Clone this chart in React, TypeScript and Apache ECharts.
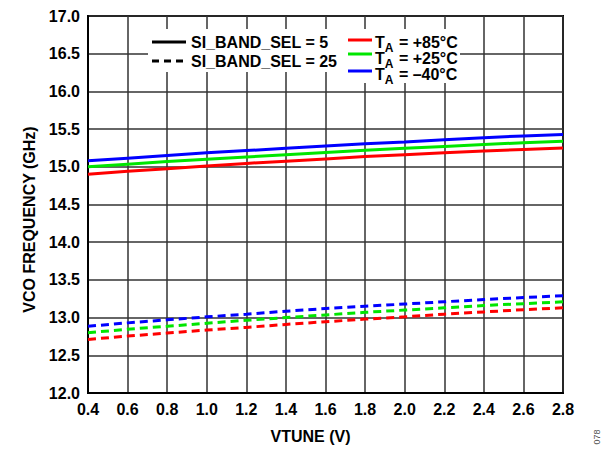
import React, { useEffect, useRef } from "react";
import * as echarts from "echarts";

const vtune = [0.4, 0.6, 0.8, 1.0, 1.2, 1.4, 1.6, 1.8, 2.0, 2.2, 2.4, 2.6, 2.8];
const band5_85 = [14.9, 14.94, 14.975, 15.01, 15.045, 15.075, 15.105, 15.135, 15.16, 15.185, 15.21, 15.23, 15.25];
const band5_25 = [15.0, 15.035, 15.07, 15.1, 15.13, 15.16, 15.19, 15.22, 15.245, 15.27, 15.295, 15.32, 15.34];
const band5_m40 = [15.08, 15.115, 15.15, 15.185, 15.215, 15.245, 15.275, 15.305, 15.33, 15.36, 15.385, 15.41, 15.43];
const band25_85 = [12.71, 12.755, 12.795, 12.835, 12.87, 12.91, 12.945, 12.98, 13.01, 13.045, 13.075, 13.105, 13.13];
const band25_25 = [12.8, 12.845, 12.885, 12.925, 12.965, 13.0, 13.035, 13.07, 13.1, 13.13, 13.16, 13.185, 13.21];
const band25_m40 = [12.885, 12.93, 12.97, 13.01, 13.045, 13.085, 13.12, 13.15, 13.18, 13.21, 13.24, 13.265, 13.29];

const RED = "#ff0000";
const GREEN = "#00e600";
const BLUE = "#0000ff";
const FONT = "Liberation Sans, Arial, sans-serif";
const FS = 16;

function mk(name: string, data: number[], color: string, dashed: boolean) {
  return {
    name,
    type: "line",
    data: vtune.map((x, i) => [x, data[i]]),
    showSymbol: false,
    lineStyle: { color, width: 3, type: dashed ? [8, 5] : "solid" },
    z: 3,
  };
}

export default function App() {
  const ref = useRef<HTMLDivElement>(null);
  useEffect(() => {
    const chart = echarts.init(ref.current!, null, { renderer: "svg" });
    const txt = { fontFamily: FONT, fontWeight: "bold", fontSize: FS, fill: "#000" };
    const rich = {
      t: { fontFamily: FONT, fontWeight: "bold", fontSize: FS, color: "#000", lineHeight: 18 },
      s: { fontFamily: FONT, fontWeight: "bold", fontSize: 12, color: "#000", lineHeight: 24, verticalAlign: "bottom", padding: [0, 1, 0, 0] },
    };
    chart.setOption({
      animation: false,
      backgroundColor: "#fff",
      grid: { left: 88, right: 42, top: 16, bottom: 54, show: true, borderColor: "#000", borderWidth: 2 },
      xAxis: {
        type: "value",
        min: 0.4,
        max: 2.8,
        interval: 0.2,
        name: "VTUNE (V)",
        nameLocation: "middle",
        nameGap: 35,
        nameTextStyle: { fontFamily: FONT, fontWeight: "bold", fontSize: FS, color: "#000", padding: [0, 30, 0, 0] },
        axisLine: { show: true, lineStyle: { color: "#000", width: 2 } },
        axisTick: { show: false },
        axisLabel: { margin: 8, fontFamily: FONT, fontWeight: "bold", fontSize: FS, color: "#000", formatter: (v: number) => v.toFixed(1) },
        splitLine: { show: true, lineStyle: { color: "#333", width: 1.5 } },
      },
      yAxis: {
        type: "value",
        min: 12,
        max: 17,
        interval: 0.5,
        name: "VCO FREQUENCY (GHz)",
        nameLocation: "middle",
        nameGap: 50,
        nameRotate: 90,
        nameTextStyle: { fontFamily: FONT, fontWeight: "bold", fontSize: FS, color: "#000", padding: [0, 30, 0, 0] },
        axisLine: { show: true, lineStyle: { color: "#000", width: 2 } },
        axisTick: { show: false },
        axisLabel: { margin: 8, fontFamily: FONT, fontWeight: "bold", fontSize: FS, color: "#000", formatter: (v: number) => v.toFixed(1) },
        splitLine: { show: true, lineStyle: { color: "#333", width: 1.5 } },
      },
      graphic: [
        { type: "rect", shape: { x: 148, y: 29, width: 312, height: 43 }, style: { fill: "#fff" }, z: 50 },
        { type: "rect", shape: { x: 340, y: 29, width: 120, height: 54 }, style: { fill: "#fff" }, z: 50 },
        { type: "line", shape: { x1: 152, y1: 42, x2: 186, y2: 42 }, style: { stroke: "#000", lineWidth: 3 }, z: 51 },
        { type: "line", shape: { x1: 152, y1: 61, x2: 186, y2: 61 }, style: { stroke: "#000", lineWidth: 3, lineDash: [7, 5] }, z: 51 },
        { type: "text", x: 191, y: 42, style: { ...txt, text: "SI_BAND_SEL = 5", verticalAlign: "middle" }, z: 51 },
        { type: "text", x: 191, y: 61, style: { ...txt, text: "SI_BAND_SEL = 25", verticalAlign: "middle" }, z: 51 },
        { type: "line", shape: { x1: 348, y1: 40, x2: 372, y2: 40 }, style: { stroke: RED, lineWidth: 3 }, z: 51 },
        { type: "line", shape: { x1: 348, y1: 54, x2: 372, y2: 54 }, style: { stroke: GREEN, lineWidth: 3 }, z: 51 },
        { type: "line", shape: { x1: 348, y1: 71, x2: 372, y2: 71 }, style: { stroke: BLUE, lineWidth: 3 }, z: 51 },
        { type: "text", x: 375, y: 42, style: { text: "{t|T}{s|A}{t| = +85°C}", rich, verticalAlign: "middle" }, z: 51 },
        { type: "text", x: 375, y: 58, style: { text: "{t|T}{s|A}{t| = +25°C}", rich, verticalAlign: "middle" }, z: 51 },
        { type: "text", x: 375, y: 74, style: { text: "{t|T}{s|A}{t| = \u201340°C}", rich, verticalAlign: "middle" }, z: 51 },
        { type: "text", x: 597, y: 437, rotation: Math.PI / 2, style: { text: "078", fontFamily: FONT, fontSize: 9, fill: "#555", align: "center", verticalAlign: "middle" }, z: 51 },
      ],
      series: [
        mk("SI5 +85", band5_85, RED, false),
        mk("SI5 +25", band5_25, GREEN, false),
        mk("SI5 -40", band5_m40, BLUE, false),
        mk("SI25 +85", band25_85, RED, true),
        mk("SI25 +25", band25_25, GREEN, true),
        mk("SI25 -40", band25_m40, BLUE, true),
      ],
    });
    return () => chart.dispose();
  }, []);
  return <div ref={ref} style={{ width: 605, height: 449, position: "absolute", left: 0, top: 0 }} />;
}
